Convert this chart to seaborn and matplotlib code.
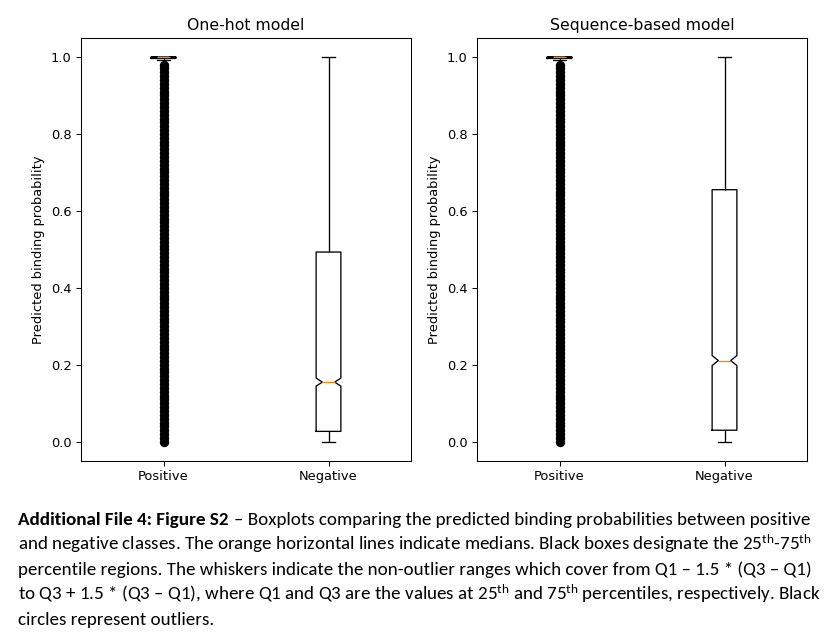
import numpy as np
import pandas as pd
import matplotlib
matplotlib.use("Agg")
import matplotlib.pyplot as plt
import seaborn as sns
from matplotlib import font_manager

# ---------------- data ----------------
classes = ["Positive", "Negative"]
panel_titles = ["One-hot model", "Sequence-based model"]
y_label = "Predicted binding probability"
y_ticks = [0.0, 0.2, 0.4, 0.6, 0.8, 1.0]

# Positive class: dense column of outliers below the tiny box near 1.0
positive_outliers = [
    0.00, 0.01, 0.02, 0.03, 0.04, 0.05, 0.06, 0.07, 0.08, 0.09,
    0.10, 0.11, 0.12, 0.13, 0.14, 0.15, 0.16, 0.17, 0.18, 0.19,
    0.20, 0.21, 0.22, 0.23, 0.24, 0.25, 0.26, 0.27, 0.28, 0.29,
    0.30, 0.31, 0.32, 0.33, 0.34, 0.35, 0.36, 0.37, 0.38, 0.39,
    0.40, 0.41, 0.42, 0.43, 0.44, 0.45, 0.46, 0.47, 0.48, 0.49,
    0.50, 0.51, 0.52, 0.53, 0.54, 0.55, 0.56, 0.57, 0.58, 0.59,
    0.60, 0.61, 0.62, 0.63, 0.64, 0.65, 0.66, 0.67, 0.68, 0.69,
    0.70, 0.71, 0.72, 0.73, 0.74, 0.75, 0.76, 0.77, 0.78, 0.79,
    0.80, 0.81, 0.82, 0.83, 0.84, 0.85, 0.86, 0.87, 0.88, 0.89,
    0.90, 0.91, 0.92, 0.93, 0.94, 0.95, 0.96, 0.97, 0.98,
]

# value levels and how many samples sit at each level
onehot_pos_values = [0.991, 0.996, 0.999, 1.0]
onehot_pos_counts = [1, 1300, 2400, 1300]
onehot_neg_values = [0.0, 0.027, 0.155, 0.493, 1.0]
onehot_neg_counts = [1, 1500, 2000, 1448, 1]

seq_pos_values = [0.991, 0.996, 0.999, 1.0]
seq_pos_counts = [1, 1300, 2400, 1300]
seq_neg_values = [0.0, 0.030, 0.211, 0.655, 1.0]
seq_neg_counts = [1, 1700, 2400, 1598, 1]

caption_bold = "Additional File 4: Figure S2"
caption_lines = [
    "\u2013 Boxplots comparing the predicted binding probabilities between positive",
    r"and negative classes. The orange horizontal lines indicate medians. Black boxes designate the 25$^{\mathrm{th}}$-75$^{\mathrm{th}}$",
    "percentile regions. The whiskers indicate the non-outlier ranges which cover from Q1 \u2013 1.5 * (Q3 \u2013 Q1)",
    "to Q3 + 1.5 * (Q3 \u2013 Q1), where Q1 and Q3 are the values at 25$^{\\mathrm{th}}$ and 75$^{\\mathrm{th}}$ percentiles, respectively. Black",
    "circles represent outliers.",
]

# ---------------- style ----------------
lw = 0.94
plt.rcParams.update({
    "font.family": ["DejaVu Sans"],
    "font.size": 9.4,
    "axes.titlesize": 11.3,
    "axes.labelsize": 9.4,
    "axes.linewidth": 0.8 * lw,
    "xtick.major.width": 0.8 * lw,
    "ytick.major.width": 0.8 * lw,
    "xtick.major.size": 3.5 * lw,
    "ytick.major.size": 3.5 * lw,
    "xtick.labelsize": 9.4,
    "ytick.labelsize": 9.4,
})

W, H = 827, 639
fig = plt.figure(figsize=(W / 100, H / 100), dpi=100)

def px_axes(l, r, t, b):
    return fig.add_axes([l / W, 1 - b / H, (r - l) / W, (b - t) / H])

ax1 = px_axes(81, 411, 37.7, 461)
ax2 = px_axes(477, 807, 37.7, 461)

def build(pos_vals, pos_cnts, neg_vals, neg_cnts):
    pos = list(positive_outliers) + list(np.repeat(pos_vals, pos_cnts))
    neg = list(np.repeat(neg_vals, neg_cnts))
    return pd.DataFrame({
        "cls": [classes[0]] * len(pos) + [classes[1]] * len(neg),
        "prob": pos + neg,
    })

dfs = [
    build(onehot_pos_values, onehot_pos_counts, onehot_neg_values, onehot_neg_counts),
    build(seq_pos_values, seq_pos_counts, seq_neg_values, seq_neg_counts),
]

for ax, df, title in zip([ax1, ax2], dfs, panel_titles):
    sns.boxplot(
        data=df, x="cls", y="prob", order=classes, ax=ax,
        width=0.15, fill=False, color="black", linewidth=1.0 * lw,
        notch=True, whis=1.5,
        medianprops=dict(color="#ff7f0e", linewidth=1.0 * lw),
        flierprops=dict(marker="o", markerfacecolor="black",
                        markeredgecolor="black", markersize=5.8,
                        markeredgewidth=1.0 * lw),
    )
    ax.set_xlim(-0.5, 1.5)
    ax.set_ylim(-0.05, 1.05)
    ax.set_yticks(y_ticks)
    ax.set_yticklabels([f"{v:.1f}" for v in y_ticks])
    ax.set_xlabel("")
    ax.set_ylabel(y_label)
    ax.set_title(title, pad=5.5)
    for sp in ax.spines.values():
        sp.set_visible(True)
        sp.set_color("black")

# ---------------- caption ----------------
avail = {f.name for f in font_manager.fontManager.ttflist}
cap_fam = next((f for f in ["Carlito", "Liberation Sans Narrow", "Lato", "Open Sans", "DejaVu Sans"] if f in avail), "DejaVu Sans")
plt.rcParams["mathtext.fontset"] = "custom"
plt.rcParams["mathtext.rm"] = cap_fam
plt.rcParams["mathtext.it"] = cap_fam + ":italic"
plt.rcParams["mathtext.bf"] = cap_fam + ":bold"

renderer = fig.canvas.get_renderer()
x0 = 18.5
baselines = [525, 550, 575, 600, 625]
target_w = 811 - x0

def draw_line1(size):
    tb = fig.text(x0 / W, 1 - baselines[0] / H, caption_bold, family=cap_fam,
                  weight="bold", fontsize=size, va="baseline", ha="left")
    wb = tb.get_window_extent(renderer).width
    gap = 0.25 * size * 100 / 72
    tr = fig.text((x0 + wb + gap) / W, 1 - baselines[0] / H, caption_lines[0],
                  family=cap_fam, fontsize=size, va="baseline", ha="left")
    wr = tr.get_window_extent(renderer).width
    return tb, tr, wb + gap + wr

trial = 12.0
tb, tr, w = draw_line1(trial)
tb.remove(); tr.remove()
size = trial * target_w / w
draw_line1(size)
for line, yb in zip(caption_lines[1:], baselines[1:]):
    fig.text(x0 / W, 1 - yb / H, line, family=cap_fam, fontsize=size,
             va="baseline", ha="left")

fig.savefig("out.png", dpi=100)
